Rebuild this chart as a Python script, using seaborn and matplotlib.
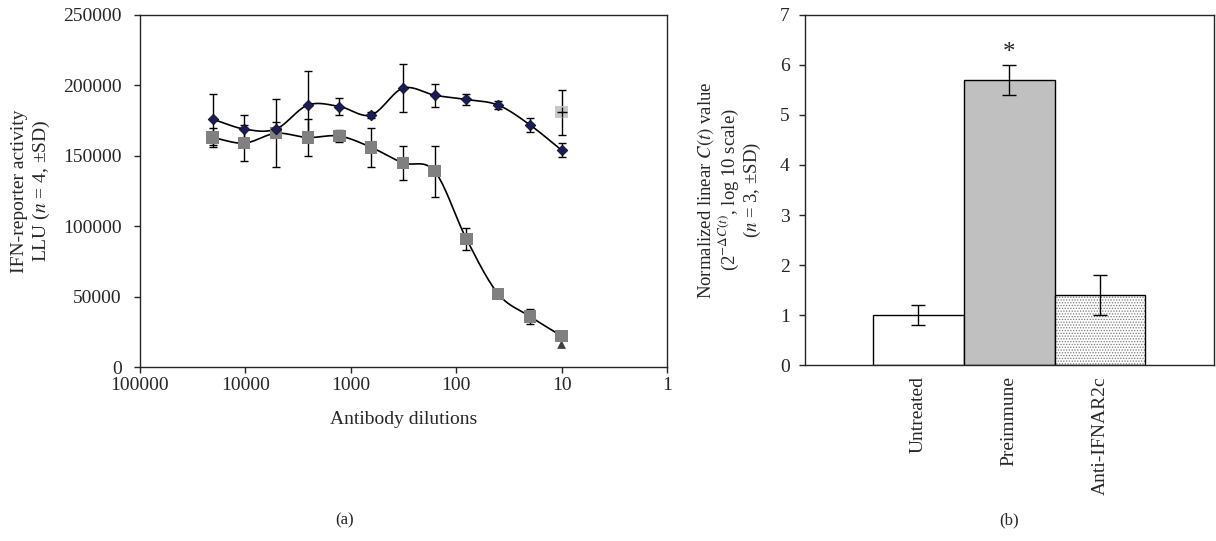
# Script for the two-panel IFN reporter figure

import numpy as np
import pandas as pd
import seaborn as sns
import matplotlib.pyplot as plt

# dilutions (two-fold series)
dilutions = [20480, 10240, 5120, 2560, 1280, 640, 320, 160, 80, 40, 20, 10]
# blue diamonds
blue_vals = [176000, 169000, 169000, 186000, 185000, 179000, 198000, 193000, 190000, 186000, 172000, 154000]
blue_sd = [18000, 10000, 5000, 24000, 6000, 2000, 17000, 8000, 4000, 3000, 5000, 5000]
# grey squares
grey_vals = [163000, 159000, 166000, 163000, 164000, 156000, 145000, 139000, 91000, 52000, 36000, 22000]
grey_sd = [7000, 13000, 24000, 13000, 4000, 14000, 12000, 18000, 8000, 2000, 5500, 3000]
# single controls at dilution 10
ctrl_x = [10]
ctrl_plus = [181000]
ctrl_plus_sd = [16000]
ctrl_tri = [16000]

# panel b
groups = ['Untreated', 'Preimmune', 'Anti-IFNAR2c']
bar_vals = [1.0, 5.7, 1.4]
bar_sd = [0.2, 0.3, 0.4]
bar_colors = ['white', '#c0c0c0', 'white']

sns.set_style('ticks')
plt.rcParams['font.family'] = ['Liberation Serif', 'DejaVu Serif']
plt.rcParams['mathtext.fontset'] = 'stix'
plt.rcParams['font.size'] = 14
plt.rcParams['hatch.linewidth'] = 0.6


def smooth(xs, ys, n=20):
    # catmull-rom curve through the points, in log-x space
    lx = np.log10(xs)
    p = np.column_stack([lx, ys])
    p = np.vstack([2 * p[0] - p[1], p, 2 * p[-1] - p[-2]])
    out = []
    for i in range(1, len(p) - 2):
        p0, p1, p2, p3 = p[i - 1], p[i], p[i + 1], p[i + 2]
        for t in np.linspace(0, 1, n, endpoint=False):
            out.append(0.5 * ((2 * p1) + (-p0 + p2) * t + (2 * p0 - 5 * p1 + 4 * p2 - p3) * t ** 2
                              + (-p0 + 3 * p1 - 3 * p2 + p3) * t ** 3))
    out.append(p[-2])
    out = np.array(out)
    return pd.DataFrame({'x': 10 ** out[:, 0], 'y': out[:, 1]})


fig = plt.figure(figsize=(12.16, 5.41), dpi=100)
ax1 = fig.add_axes([0.1151, 0.3216, 0.4334, 0.6507])
ax2 = fig.add_axes([0.662, 0.3253, 0.336, 0.647])

# ---- panel a ----
for vals in (blue_vals, grey_vals):
    sns.lineplot(data=smooth(dilutions, vals), x='x', y='y', sort=False, color='black', lw=1.2, ax=ax1)
ax1.errorbar(dilutions, blue_vals, yerr=blue_sd, fmt='none', ecolor='black', elinewidth=1, capsize=3)
ax1.errorbar(dilutions, grey_vals, yerr=grey_sd, fmt='none', ecolor='black', elinewidth=1, capsize=3)
ax1.errorbar(ctrl_x, ctrl_plus, yerr=ctrl_plus_sd, fmt='none', ecolor='black', elinewidth=1, capsize=3)
sns.scatterplot(x=dilutions, y=grey_vals, marker='s', s=80, color='#808080', edgecolor='none', ax=ax1, zorder=3)
sns.scatterplot(x=dilutions, y=blue_vals, marker='D', s=30, color='#1c1c5c', edgecolor='black', ax=ax1, zorder=4)
sns.scatterplot(x=ctrl_x, y=ctrl_plus, marker='s', s=80, color='#c8c8c8', edgecolor='none', ax=ax1, zorder=3)
sns.scatterplot(x=ctrl_x, y=ctrl_plus, marker='+', s=50, color='black', linewidth=1, ax=ax1, zorder=4)
sns.scatterplot(x=ctrl_x, y=ctrl_tri, marker='^', s=40, color='#404040', edgecolor='none', ax=ax1, zorder=2)

ax1.set_xscale('log')
ax1.set_xlim(100000, 1)
ax1.set_ylim(0, 250000)
ax1.set_xticks([100000, 10000, 1000, 100, 10, 1])
ax1.set_xticklabels(['100000', '10000', '1000', '100', '10', '1'])
ax1.minorticks_off()
ax1.set_yticks(range(0, 250001, 50000))
ax1.set_yticklabels([str(v) for v in range(0, 250001, 50000)])
ax1.set_xlabel('Antibody dilutions', labelpad=12, fontsize=14)
ax1.set_ylabel('IFN-reporter activity\nLLU ($n$ = 4, ±SD)', labelpad=8, fontsize=14)
ax1.tick_params(direction='out', length=4, width=1, labelsize=14)
ax1.tick_params(axis='y', pad=9)
for s in ax1.spines.values():
    s.set_linewidth(1)

# ---- panel b ----
dfb = pd.DataFrame({'group': groups, 'value': bar_vals})
sns.barplot(data=dfb, x='group', y='value', hue='group', palette=bar_colors, width=1.0,
            edgecolor='black', linewidth=1, legend=False, ax=ax2)
# stippled fill for the last bar, outline drawn again on top
ax2.patches[2].set_hatch('......')
ax2.patches[2].set_edgecolor('#7a7a7a')
ax2.patches[2].set_linewidth(0)
ax2.bar(2, bar_vals[2], width=1.0, fill=False, edgecolor='black', linewidth=1)
ax2.errorbar(range(len(groups)), bar_vals, yerr=bar_sd, fmt='none', ecolor='black', elinewidth=1, capsize=5)
ax2.text(1, bar_vals[1] + bar_sd[1] + 0.02, '*', ha='center', va='bottom', fontsize=18)
ax2.set_xlim(-1.25, 3.25)
ax2.set_ylim(0, 7)
ax2.set_yticks(range(0, 8))
ax2.set_xlabel('')
ax2.set_ylabel('Normalized linear $C(t)$ value\n(2$^{-\\Delta C(t)}$, log 10 scale)\n($n$ = 3, ±SD)',
               labelpad=12, linespacing=1.05, fontsize=13.5)
ax2.tick_params(axis='x', length=0, rotation=90, labelsize=14, pad=8)
ax2.tick_params(axis='y', direction='out', length=4, width=1, labelsize=14, pad=7)
for s in ax2.spines.values():
    s.set_linewidth(1)

fig.text(0.283, 0.03, '(a)', ha='center', fontsize=12)
fig.text(0.83, 0.03, '(b)', ha='center', fontsize=12)

plt.savefig('out.png', dpi=100)
